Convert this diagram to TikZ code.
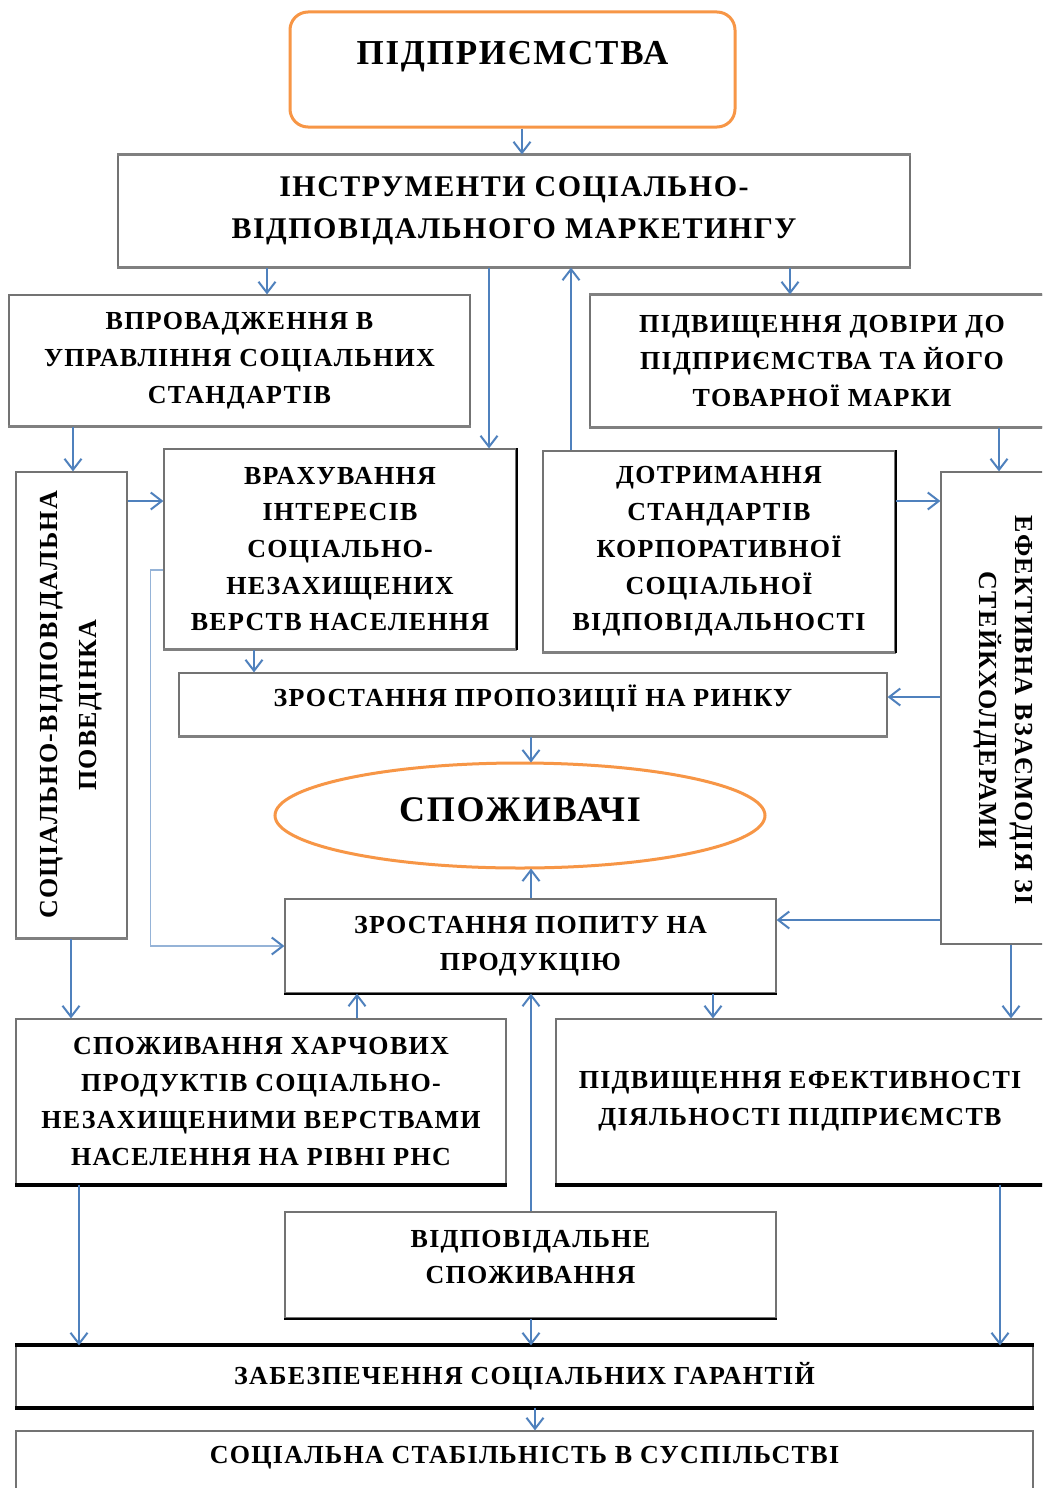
\documentclass[tikz,border=0pt]{standalone}
\usepackage{fontspec}
\setmainfont{Liberation Serif}[LetterSpace=5]
\usetikzlibrary{arrows.meta,shapes.geometric,calc}
\definecolor{arrblue}{HTML}{4F81BD}
\definecolor{lightblue}{HTML}{95B3D7}
\definecolor{orng}{HTML}{F79646}
\begin{document}
\begin{tikzpicture}[x=1pt,y=-1pt,
  box/.style={draw=black!55, line width=1.2pt, fill=white, align=center, inner sep=0pt,
    font=\bfseries\fontsize{26}{36.7}\selectfont},
  txt/.style={align=center, inner sep=0pt, font=\bfseries\fontsize{26}{36.7}\selectfont},
  big/.style={align=center, inner sep=0pt, font=\bfseries\fontsize{36}{40}\selectfont},
  arr/.style={draw=arrblue, line width=2pt, -{Straight Barb[length=11pt,width=17pt]}},
  tarr/.style={draw=arrblue, line width=1.5pt, -{Straight Barb[length=11pt,width=17pt,line width=2pt]}},
  larr/.style={draw=lightblue, line width=1.6pt, -{Straight Barb[length=11pt,width=17pt,line width=2pt,color=arrblue]}},
  shad/.style={draw=black!50, line width=3pt},
  heavy/.style={draw=black, line width=4pt},
  mid/.style={draw=black, line width=2pt}
]
\clip (0,0) rectangle (1042,1488);
\fill[white] (0,0) rectangle (1042,1488);

% boxes
\node[draw=orng, line width=3pt, rounded corners=18pt, fill=white, minimum width=445pt, minimum height=115pt, inner sep=0pt] (b1) at (512.5,69.5) {};
\node[big, font=\bfseries\fontsize{35}{40}\selectfont] (t1) at (512.5,57) {ПІДПРИЄМСТВА};

\node[box, minimum width=792pt, minimum height=112pt, font=\bfseries\fontsize{30}{42}\selectfont] (b2) at (514,211)
  {ІНСТРУМЕНТИ СОЦІАЛЬНО-\\ВІДПОВІДАЛЬНОГО МАРКЕТИНГУ};
\node[box, minimum width=461pt, minimum height=131pt] (b3) at (239.5,360.5)
  {ВПРОВАДЖЕННЯ В\\УПРАВЛІННЯ СОЦІАЛЬНИХ\\СТАНДАРТІВ};
\node[box, minimum width=464pt, minimum height=132pt] (b4) at (822,361)
  {ПІДВИЩЕННЯ ДОВІРИ ДО\\ПІДПРИЄМСТВА ТА ЙОГО\\ТОВАРНОЇ МАРКИ};

\node[box, minimum width=111pt, minimum height=466pt] (b5) at (71.5,705) {};
\node[txt, rotate=90, font=\bfseries\fontsize{26}{39}\selectfont] (t5) at (71.5,705)
  {СОЦІАЛЬНО-ВІДПОВІДАЛЬНА\\ПОВЕДІНКА};

\node[box, minimum width=352pt, minimum height=200pt] (b6) at (340,549)
  {ВРАХУВАННЯ\\ІНТЕРЕСІВ\\СОЦІАЛЬНО-\\НЕЗАХИЩЕНИХ\\ВЕРСТВ НАСЕЛЕННЯ};
\node[box, minimum width=352pt, minimum height=201pt] (b7) at (719,551.5)
  {ДОТРИМАННЯ\\СТАНДАРТІВ\\КОРПОРАТИВНОЇ\\СОЦІАЛЬНОЇ\\ВІДПОВІДАЛЬНОСТІ};

\node[box, minimum width=124pt, minimum height=472pt] (b8) at (1003,708) {};
\node[txt, rotate=-90, font=\bfseries\fontsize{26}{36}\selectfont] (t8) at (1003,710)
  {ЕФЕКТИВНА ВЗАЄМОДІЯ ЗІ\\СТЕЙКХОЛДЕРАМИ};

\node[box, minimum width=708pt, minimum height=63pt] (b9) at (533,704.5) {};
\node[txt] (t9) at (533,698) {ЗРОСТАННЯ ПРОПОЗИЦІЇ НА РИНКУ};

\node[draw=orng, line width=3pt, fill=white, ellipse, minimum width=490pt, minimum height=105pt, inner sep=0pt] (b10) at (520,815.5) {};
\node[big] (t10) at (520,810) {СПОЖИВАЧІ};

\node[box, minimum width=491pt, minimum height=94pt] (b11) at (530.5,946)
  {ЗРОСТАННЯ ПОПИТУ НА\\ПРОДУКЦІЮ};
\node[box, minimum width=490pt, minimum height=165pt] (b12) at (261,1101.5)
  {СПОЖИВАННЯ ХАРЧОВИХ\\ПРОДУКТІВ СОЦІАЛЬНО-\\НЕЗАХИЩЕНИМИ ВЕРСТВАМИ\\НАСЕЛЕННЯ НА РІВНІ РНС};
\node[box, minimum width=488pt, minimum height=165pt] (b13) at (800,1101.5)
  {ПІДВИЩЕННЯ ЕФЕКТИВНОСТІ\\ДІЯЛЬНОСТІ ПІДПРИЄМСТВ};
\node[box, minimum width=491pt, minimum height=106pt] (b14) at (530.5,1265) {};
\node[txt] (t14) at (530.5,1257) {ВІДПОВІДАЛЬНЕ\\СПОЖИВАННЯ};
\node[box, minimum width=1017pt, minimum height=61pt] (b15) at (524.5,1376.5)
  {ЗАБЕЗПЕЧЕННЯ СОЦІАЛЬНИХ ГАРАНТІЙ};
\node[box, minimum width=1017pt, minimum height=70pt] (b16) at (524.5,1466) {};
\node[txt] (t16) at (524.5,1458) {СОЦІАЛЬНА СТАБІЛЬНІСТЬ В СУСПІЛЬСТВІ};

% edge emphasis
\draw[shad] (b2.south west) -- (b2.south east);
\draw[shad] (b2.north west) -- (b2.north east);
\draw[shad] (b3.south west) -- (b3.south east);
\draw[shad] (b4.south west) -- (b4.south east);
\draw[shad] (b4.north west) -- (b4.north east);
\draw[shad] (b5.south west) -- (b5.south east);
\draw[shad] (b6.south west) -- (b6.south east);
\draw[shad] (b7.south west) -- (b7.south east);
\draw[shad] (b9.south west) -- (b9.south east);
\draw[mid] (b7.north east) -- (b7.south east);
\draw[mid] (b6.north east) -- (b6.south east);
\draw[mid] (b11.south west) -- (b11.south east);
\draw[mid] (b14.south west) -- (b14.south east);
\draw[heavy] (b12.south west) -- (b12.south east);
\draw[heavy] (b13.south west) -- (b13.south east);
\draw[heavy] (b15.south west) -- (b15.south east);
\draw[heavy] (b15.north west) -- (b15.north east);

% helper coordinates
\coordinate (X522) at (522,0);
\coordinate (X267) at (267,0);
\coordinate (X790) at (790,0);
\coordinate (X489) at (489,0);
\coordinate (X571) at (571,0);
\coordinate (X73) at (73,0);
\coordinate (X999) at (999,0);
\coordinate (X254) at (254,0);
\coordinate (X531) at (531,0);
\coordinate (X71) at (71,0);
\coordinate (X357) at (357,0);
\coordinate (X713) at (713,0);
\coordinate (X1011) at (1011,0);
\coordinate (X79) at (79,0);
\coordinate (X1000) at (1000,0);
\coordinate (X535) at (535,0);
\coordinate (Y501) at (0,501);
\coordinate (Y697) at (0,697);
\coordinate (Y920) at (0,920);

% connectors
\draw[arr] (b1.south -| X522) -- (b2.north -| X522);
\draw[arr] (b2.south -| X267) -- (b3.north -| X267);
\draw[arr] (b2.south -| X790) -- (b4.north -| X790);
\draw[arr] (b2.south -| X489) -- (b6.north -| X489);
\draw[arr] (b7.north -| X571) -- (b2.south -| X571);
\draw[arr] (b3.south -| X73) -- (b5.north -| X73);
\draw[arr] (b4.south -| X999) -- (b8.north -| X999);
\draw[arr] (b5.east |- Y501) -- (b6.west |- Y501);
\draw[arr] (b7.east |- Y501) -- (b8.west |- Y501);
\draw[arr] (b6.south -| X254) -- (b9.north -| X254);
\draw[arr] (b8.west |- Y697) -- (b9.east |- Y697);
\draw[arr] (b9.south -| X531) -- ([yshift=-1pt]b10.north -| X531);
\draw[arr] (b11.north -| X531) -- ([yshift=1pt]b10.south -| X531);
\draw[arr] (b8.west |- Y920) -- (b11.east |- Y920);
\draw[larr] ([yshift=-21pt]b6.west) -- ++(-13,0) |- (b11.west);
\draw[arr] (b5.south -| X71) -- (b12.north -| X71);
\draw[arr] (b12.north -| X357) -- (b11.south -| X357);
\draw[arr] (b11.south -| X713) -- (b13.north -| X713);
\draw[arr] (b8.south -| X1011) -- (b13.north -| X1011);
\draw[tarr] (b14.north -| X531) -- (b11.south -| X531);
\draw[tarr] (b12.south -| X79) -- (b15.north -| X79);
\draw[tarr] (b13.south -| X1000) -- (b15.north -| X1000);
\draw[tarr] (b14.south -| X531) -- (b15.north -| X531);
\draw[arr] (b15.south -| X535) -- (b16.north -| X535);
\end{tikzpicture}
\end{document}
